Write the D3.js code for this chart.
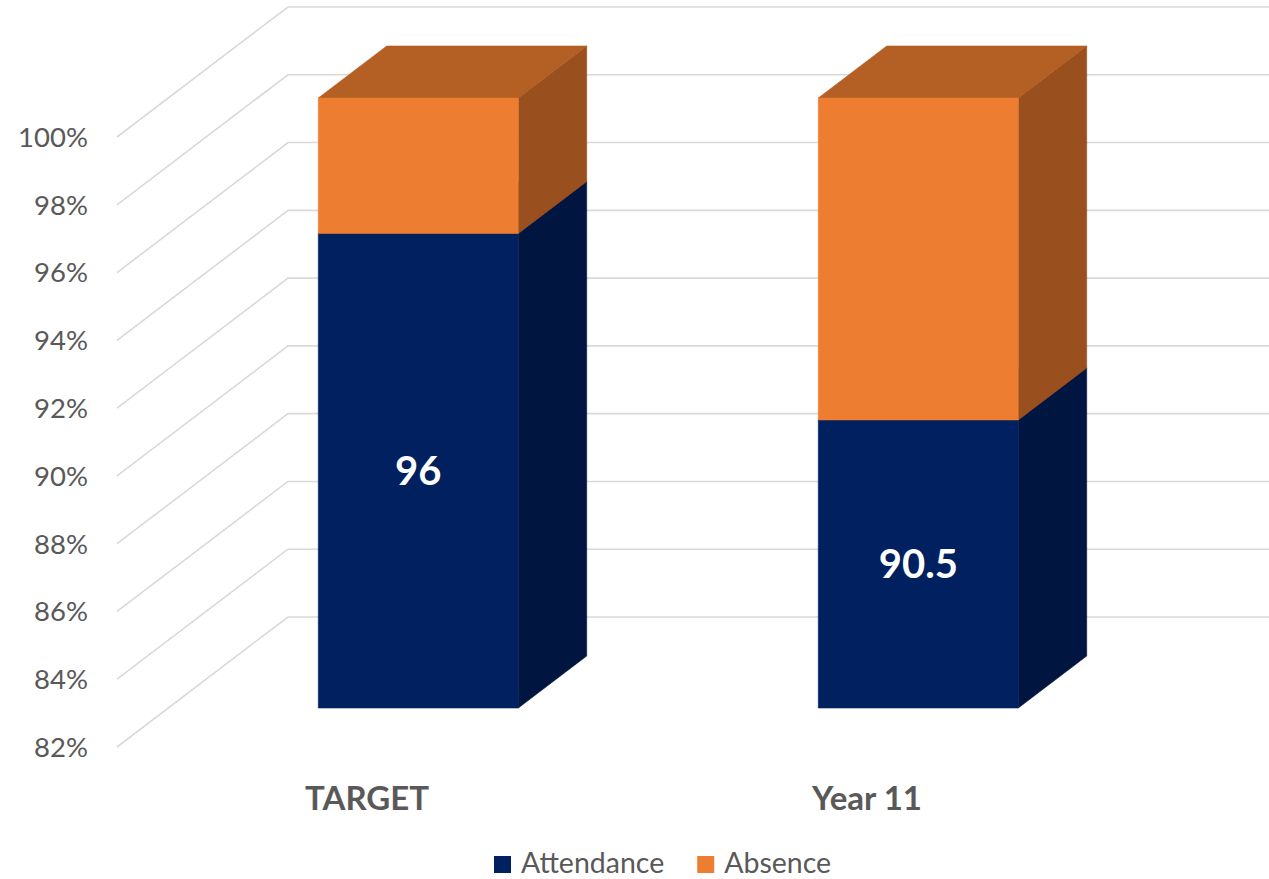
<!DOCTYPE html>
<html>
<head>
<meta charset="utf-8">
<script src="https://cdn.jsdelivr.net/npm/d3@7"></script>
<style>
  html, body { margin: 0; padding: 0; background: #fff; }
  svg { display: block; font-family: Lato, "Open Sans", sans-serif; }
</style>
</head>
<body>
<svg id="chart" width="1269" height="879"></svg>
<script>
// Chart data
const categories = ["TARGET", "Year 11"];
const seriesNames = ["Attendance", "Absence"];
const attendance = [96, 90.5];
const absence = [4, 9.5];
const yTicks = [82, 84, 86, 88, 90, 92, 94, 96, 98, 100];

// Colours: front, top and side faces of each series
const faceColours = {
  Attendance: { front: "#002060", top: "#001849", side: "#001540" },
  Absence:    { front: "#ED7D31", top: "#B45F24", side: "#9A4F1E" }
};

const svg = d3.select("#chart");
const W = 1269, H = 879;

// Front plane of the 3D plot box
const y = d3.scaleLinear().domain([82, 100]).range([747, 137]);
const x = d3.scaleBand().domain(categories).range([117, 1117])
  .paddingInner(0.6).paddingOuter(0.3);

// Oblique depth vector from the front plane to the back wall
const depth = { dx: 171, dy: -130 };
const barDepth = [0.3, 0.7];   // bar occupies the middle of the depth
const proj = (px, v, z) => [px + z * depth.dx, y(v) + z * depth.dy];

// Clip everything to the canvas
svg.append("defs").append("clipPath").attr("id", "clip")
  .append("rect").attr("width", W).attr("height", H);
const plot = svg.append("g").attr("clip-path", "url(#clip)");

// Gridlines: diagonal on the side wall, horizontal on the back wall
const grid = plot.append("g").attr("fill", "none")
  .attr("stroke", "#D9D9D9").attr("stroke-width", 1.6);
grid.selectAll("path").data(yTicks).join("path")
  .attr("d", v => {
    const a = proj(x.range()[0], v, 0);
    const b = proj(x.range()[0], v, 1);
    const c = proj(x.range()[1], v, 1);
    return d3.line()([a, b, c]);
  });

// Y axis labels
svg.append("g").selectAll("text").data(yTicks).join("text")
  .attr("x", 88).attr("y", v => y(v))
  .attr("dy", "0.36em")
  .attr("text-anchor", "end")
  .attr("fill", "#595959")
  .attr("font-size", 27.5)
  .text(v => v + "%");

// Stacked segments, starting at the axis floor
const table = categories.map((c, i) => ({ category: c, Attendance: attendance[i], Absence: absence[i] }));
const layers = d3.stack().keys(seriesNames)(table);
const floor = y.domain()[0];
const segments = [];
layers.forEach(layer => {
  layer.forEach((d, i) => {
    segments.push({
      category: categories[i],
      series: layer.key,
      v0: Math.max(d[0], floor),
      v1: d[1],
      value: d.data[layer.key]
    });
  });
});
// draw lower segments first so upper ones cover their top faces
segments.sort((a, b) => a.v0 - b.v0);

const bars = plot.append("g");
const poly = pts => d3.line()(pts) + "Z";
segments.forEach(seg => {
  const x0 = x(seg.category), x1 = x0 + x.bandwidth();
  const z0 = barDepth[0], z1 = barDepth[1];
  const col = faceColours[seg.series];
  const g = bars.append("g").attr("stroke-width", 0.6);
  // right side face
  g.append("path").attr("fill", col.side).attr("stroke", col.side).attr("d", poly([
    proj(x1, seg.v0, z0), proj(x1, seg.v0, z1), proj(x1, seg.v1, z1), proj(x1, seg.v1, z0)
  ]));
  // top face
  g.append("path").attr("fill", col.top).attr("stroke", col.top).attr("d", poly([
    proj(x0, seg.v1, z0), proj(x1, seg.v1, z0), proj(x1, seg.v1, z1), proj(x0, seg.v1, z1)
  ]));
  // front face
  g.append("path").attr("fill", col.front).attr("stroke", col.front).attr("d", poly([
    proj(x0, seg.v0, z0), proj(x1, seg.v0, z0), proj(x1, seg.v1, z0), proj(x0, seg.v1, z0)
  ]));
});

// Value labels on the attendance segments
const labelled = segments.filter(s => s.series === "Attendance");
svg.append("g").selectAll("text").data(labelled).join("text")
  .attr("x", s => proj(x(s.category) + x.bandwidth() / 2, s.v0, barDepth[0])[0])
  .attr("y", s => (proj(0, s.v0, barDepth[0])[1] + proj(0, s.v1, barDepth[0])[1]) / 2)
  .attr("dy", "0.36em")
  .attr("text-anchor", "middle")
  .attr("fill", "#FFFFFF")
  .attr("font-weight", "bold")
  .attr("font-size", 40)
  .text(s => String(s.value));

// Category labels on the front plane
svg.append("g").selectAll("text").data(categories).join("text")
  .attr("x", c => x(c) + x.bandwidth() / 2)
  .attr("y", 810)
  .attr("text-anchor", "middle")
  .attr("fill", "#595959")
  .attr("font-weight", "bold")
  .attr("font-size", 33)
  .text(c => c);

// Legend
const legend = svg.append("g");
const legendItems = legend.selectAll("g").data(seriesNames).join("g");
legendItems.append("rect").attr("width", 17).attr("height", 17)
  .attr("y", 856).attr("fill", s => faceColours[s].front);
legendItems.append("text").attr("x", 27).attr("y", 873)
  .attr("fill", "#595959").attr("font-size", 28.5)
  .text(s => s);
let lx = 494;
legendItems.each(function () {
  d3.select(this).attr("transform", `translate(${lx},0)`);
  lx += 27 + this.querySelector("text").getComputedTextLength() + 33;
});
</script>
</body>
</html>
